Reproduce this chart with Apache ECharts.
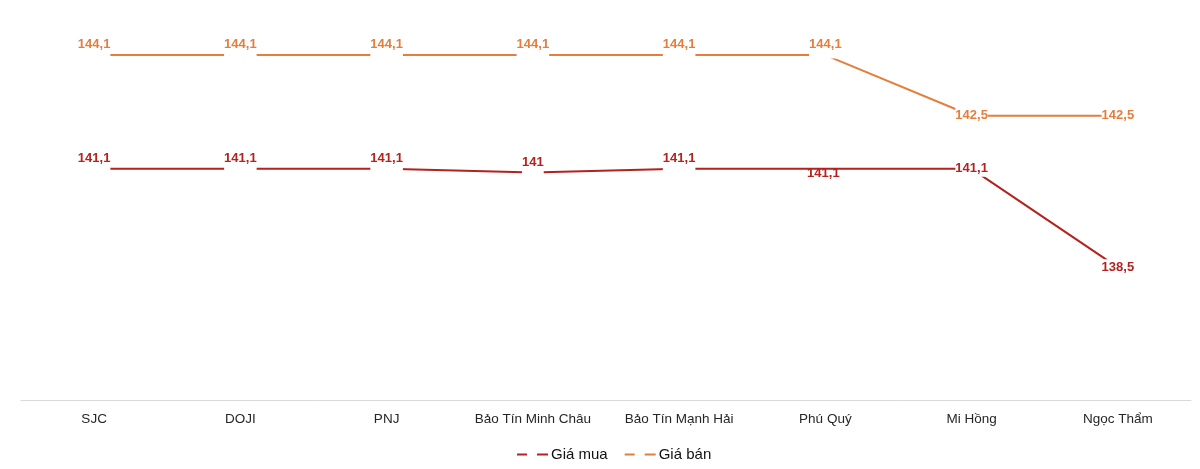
<!DOCTYPE html>
<html>
<head>
<meta charset="utf-8">
<script src="https://cdn.jsdelivr.net/npm/echarts@6/dist/echarts.min.js"></script>
<style>
html,body{margin:0;padding:0;background:#fff;}
#chart{width:1200px;height:469px;}
</style>
</head>
<body>
<div id="chart"></div>
<script>
const categories = ['SJC', 'DOJI', 'PNJ', 'Bảo Tín Minh Châu', 'Bảo Tín Mạnh Hải', 'Phú Quý', 'Mi Hồng', 'Ngọc Thẩm'];
const buyPrices = [141.1, 141.1, 141.1, 141, 141.1, 141.1, 141.1, 138.5];
const sellPrices = [144.1, 144.1, 144.1, 144.1, 144.1, 144.1, 142.5, 142.5];
const buyLabelPlace = ['top', 'top', 'top', 'top', 'top', 'below', 'center', 'center'];
const sellLabelPlace = ['top', 'top', 'top', 'top', 'top', 'top', 'center', 'center'];

const RED = '#B3221E';
const ORANGE = '#E37E3C';
const fmt = v => String(v).replace('.', ',');

function labelFor(place, color) {
  const base = {
    show: true, color: color, fontFamily: 'Liberation Sans', fontWeight: 'bold', fontSize: 13,
    lineHeight: 14, formatter: p => fmt(p.value)
  };
  if (place === 'top') {
    return Object.assign(base, {position: 'top', distance: -4, padding: [0, 0, 7, 0], backgroundColor: '#fff'});
  }
  if (place === 'center') {
    return Object.assign(base, {position: 'inside', padding: [1, 0, 1, 0], backgroundColor: '#fff'});
  }
  return Object.assign(base, {position: 'inside', offset: [-2, 5]});
}

function buildData(values, places, color) {
  return values.map((v, i) => ({value: v, label: labelFor(places[i], color)}));
}

const chart = echarts.init(document.getElementById('chart'));
chart.setOption({
  animation: false,
  grid: {left: 21, right: 9, top: 21, bottom: 69},
  xAxis: {
    type: 'category', data: categories, boundaryGap: true,
    axisLine: {lineStyle: {color: '#D9D9D9', width: 1}},
    axisTick: {show: false},
    axisLabel: {interval: 0, color: '#262626', fontSize: 13.5, fontFamily: 'Liberation Sans', margin: 12}
  },
  yAxis: {type: 'value', min: 135, max: 145, show: false, splitLine: {show: false}},
  legend: {
    bottom: 2, left: 512, itemGap: 17, itemWidth: 31, itemHeight: 2,
    textStyle: {color: '#111', fontSize: 15, fontFamily: 'Liberation Sans', padding: [0, 0, 0, -2]},
    data: [
      {name: 'Giá mua', icon: 'path://M0,0h10v2h-10z M20,0h11v2h-11z'},
      {name: 'Giá bán', icon: 'path://M0,0h10v2h-10z M20,0h11v2h-11z'}
    ]
  },
  series: [
    {
      name: 'Giá mua', type: 'line', data: buildData(buyPrices, buyLabelPlace, RED),
      symbol: 'circle', symbolSize: 1, itemStyle: {color: RED},
      lineStyle: {color: RED, width: 2}
    },
    {
      name: 'Giá bán', type: 'line', data: buildData(sellPrices, sellLabelPlace, ORANGE),
      symbol: 'circle', symbolSize: 1, itemStyle: {color: ORANGE},
      lineStyle: {color: ORANGE, width: 2}
    }
  ]
});
</script>
</body>
</html>
